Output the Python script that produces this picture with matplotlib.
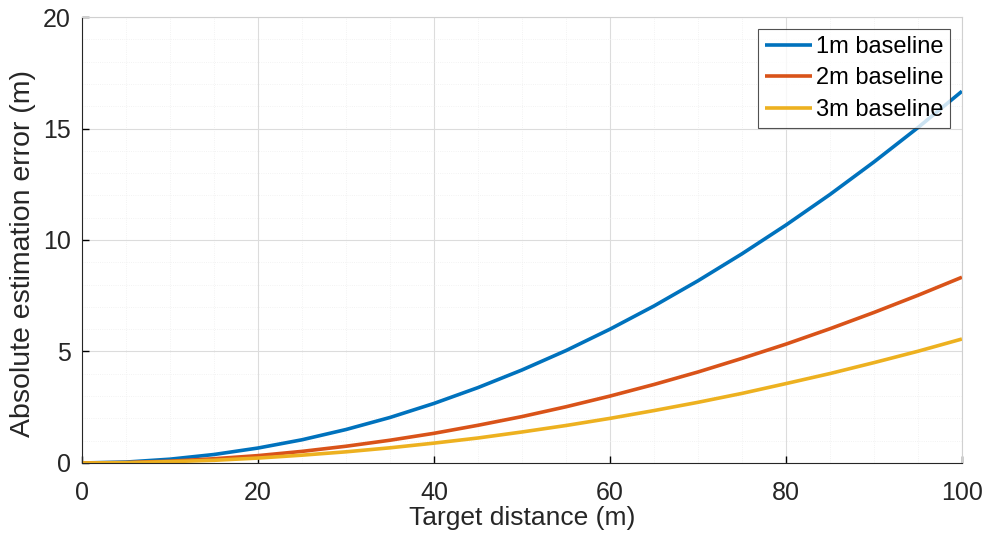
import numpy as np
import matplotlib.pyplot as plt
from matplotlib.ticker import MultipleLocator

plt.rcParams['font.family'] = ['Liberation Sans', 'DejaVu Sans']

# target distance (m)
distance = [0, 5, 10, 15, 20, 25, 30, 35, 40, 45, 50,
            55, 60, 65, 70, 75, 80, 85, 90, 95, 100]
# absolute estimation error (m)
err_1m = [0, 0.04, 0.17, 0.38, 0.67, 1.04, 1.50, 2.04, 2.67, 3.38, 4.17,
          5.04, 6.00, 7.04, 8.17, 9.38, 10.67, 12.04, 13.50, 15.04, 16.67]
err_2m = [0, 0.02, 0.08, 0.19, 0.33, 0.52, 0.75, 1.02, 1.33, 1.69, 2.08,
          2.52, 3.00, 3.52, 4.08, 4.69, 5.33, 6.02, 6.75, 7.52, 8.33]
err_3m = [0, 0.01, 0.06, 0.12, 0.22, 0.35, 0.50, 0.68, 0.89, 1.12, 1.39,
          1.68, 2.00, 2.35, 2.72, 3.12, 3.56, 4.01, 4.50, 5.01, 5.56]
labels = ['1m baseline', '2m baseline', '3m baseline']
colors = ['#0072BD', '#D95319', '#EDB120']

fig = plt.figure(figsize=(9.85, 5.42), dpi=100)
ax = fig.add_axes([0.0832, 0.1458, 0.8934, 0.8228])

for ys, lab, c in zip([err_1m, err_2m, err_3m], labels, colors):
    ax.plot(distance, ys, color=c, lw=2.6, label=lab, solid_capstyle='butt')

ax.set_xlim(0, 100)
ax.set_ylim(0, 20)
ax.xaxis.set_major_locator(MultipleLocator(20))
ax.yaxis.set_major_locator(MultipleLocator(5))
ax.xaxis.set_minor_locator(MultipleLocator(5))
ax.yaxis.set_minor_locator(MultipleLocator(1))
ax.grid(which='major', color='#dcdcdc', lw=0.8)
ax.grid(which='minor', color='#efefef', lw=0.6, ls=':')
ax.set_axisbelow(True)
ax.tick_params(which='major', direction='in', length=5, width=1, labelsize=18,
               labelcolor='#262626')
ax.tick_params(axis='x', pad=13)
ax.tick_params(axis='y', pad=8)
ax.tick_params(which='minor', length=0)
ax.tick_params(top=False, right=False)
for s in ['top', 'right']:
    ax.spines[s].set_color('#d0d0d0')
for s in ['left', 'bottom']:
    ax.spines[s].set_color('#262626')

ax.set_xlabel('Target distance (m)', fontsize=19, color='#262626', labelpad=1)
ax.set_ylabel('Absolute estimation error (m)', fontsize=20.5, color='#262626', labelpad=5)
ax.yaxis.label.set_y(0.47)

leg = ax.legend(loc='upper right', fontsize=17, frameon=True, fancybox=False,
                edgecolor='#262626', handlelength=2.0, handletextpad=0.15,
                borderpad=0.3, labelspacing=0.4, borderaxespad=0.5)
leg.get_frame().set_linewidth(0.8)

fig.savefig('out.png', dpi=100)
